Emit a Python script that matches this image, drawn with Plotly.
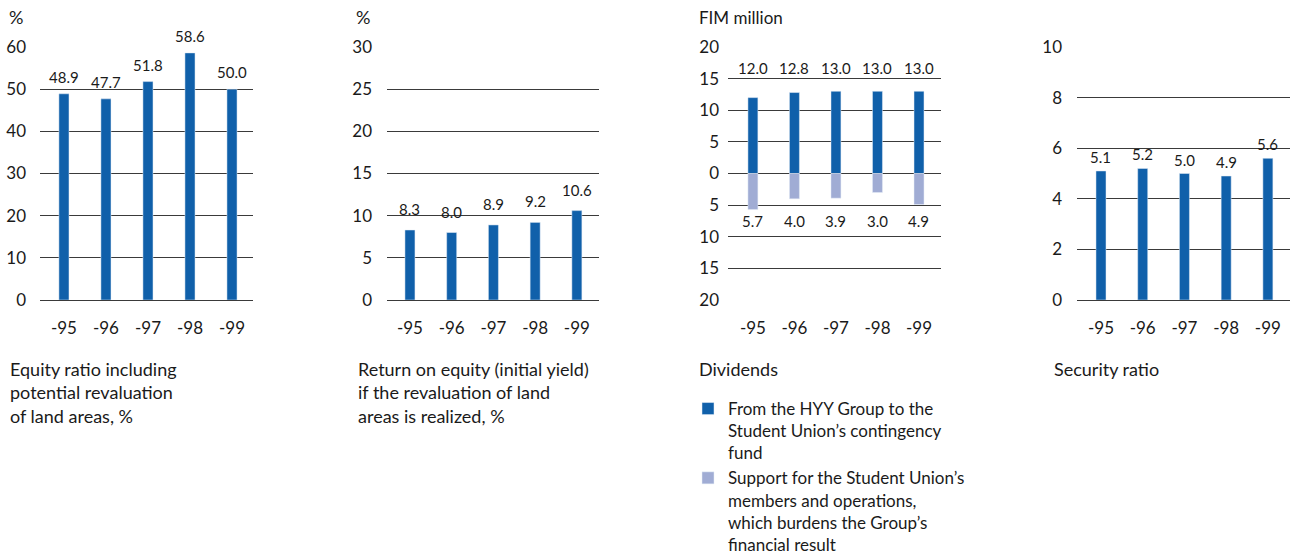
import plotly.graph_objects as go

years = ["-95", "-96", "-97", "-98", "-99"]
equity_ratio = [48.9, 47.7, 51.8, 58.6, 50.0]
roe = [8.3, 8.0, 8.9, 9.2, 10.6]
div_contingency = [12.0, 12.8, 13.0, 13.0, 13.0]
div_support = [5.7, 4.0, 3.9, 3.0, 4.9]
security_ratio = [5.1, 5.2, 5.0, 4.9, 5.6]

captions = [
    "Equity ratio including<br>potential revaluation<br>of land areas, %",
    "Return on equity (initial yield)<br>if the revaluation of land<br>areas is realized, %",
    "Dividends",
    "Security ratio",
]
unit_labels = ["%", "%", "FIM million", ""]
legend_names = [
    "From the HYY Group to the<br>Student Union’s contingency<br>fund",
    "Support for the Student Union’s<br>members and operations,<br>which burdens the Group’s<br>financial result",
]

W, H = 1297, 555
FONT = "Lato"
TXT = "#1a1a1a"
DARK = "#1060aa"
LIGHT = "#a0acd4"
GRID = "#3a3a3a"

def px(x):
    return x / W

def py(y):
    return 1 - y / H

xs = list(range(len(years)))

fig = go.Figure()

panels = [
    dict(x0=40, x1=253, xr=[-0.57, 4.5], yr=[0, 60], dt=10, so=13),
    dict(x0=387, x1=599, xr=[-0.55, 4.53], yr=[0, 30], dt=5, so=14),
    dict(x0=728, x1=941, xr=[-0.6, 4.53], yr=[-20, 20], dt=5, so=8),
    dict(x0=1077, x1=1290, xr=[-0.575, 4.53], yr=[0, 10], dt=2, so=14),
]

y_top, y_bot = 47, 300

for i, p in enumerate(panels):
    n = "" if i == 0 else str(i + 1)
    xa = dict(
        domain=[px(p["x0"]), px(p["x1"])],
        range=p["xr"],
        tickmode="array",
        tickvals=xs,
        ticktext=years,
        showgrid=False,
        zeroline=False,
        showline=False,
        ticks="",
        ticklabelstandoff=16,
        tickfont=dict(family=FONT, size=17, color=TXT),
        anchor="y" + n,
        fixedrange=True,
    )
    ya = dict(
        domain=[py(y_bot), py(y_top)],
        range=p["yr"],
        dtick=p["dt"],
        tick0=0,
        showgrid=True,
        gridcolor=GRID,
        gridwidth=1,
        zeroline=True,
        zerolinecolor=GRID,
        zerolinewidth=1,
        showline=False,
        ticks="",
        ticklabelstandoff=p["so"],
        tickfont=dict(family=FONT, size=17, color=TXT),
        anchor="x" + n,
        fixedrange=True,
    )
    if i == 2:
        vals = list(range(-20, 21, 5))
        ya.update(tickmode="array", tickvals=vals, ticktext=[str(abs(v)) for v in vals])
    fig.update_layout(**{"xaxis" + n: xa, "yaxis" + n: ya})

bar_w = 0.24

fig.add_trace(go.Bar(x=xs, y=equity_ratio, width=bar_w, marker_color=DARK,
                     xaxis="x", yaxis="y", showlegend=False, cliponaxis=False))
fig.add_trace(go.Bar(x=xs, y=roe, width=bar_w, marker_color=DARK,
                     xaxis="x2", yaxis="y2", showlegend=False, cliponaxis=False))
fig.add_trace(go.Bar(x=xs, y=div_contingency, width=bar_w, marker_color=DARK,
                     xaxis="x3", yaxis="y3", name=legend_names[0], showlegend=True))
fig.add_trace(go.Bar(x=xs, y=[-v for v in div_support], width=bar_w, marker_color=LIGHT,
                     xaxis="x3", yaxis="y3", name=legend_names[1], showlegend=True))
fig.add_trace(go.Bar(x=xs, y=security_ratio, width=bar_w, marker_color=DARK,
                     xaxis="x4", yaxis="y4", showlegend=False, cliponaxis=False))

ann = []
lab_font = dict(family=FONT, size=15, color=TXT)

def add_labels(vals, xref, yref, yshift, yvals=None):
    for k, v in enumerate(vals):
        ann.append(dict(x=xs[k], y=(yvals[k] if yvals else v), xref=xref, yref=yref,
                        text=f"{v:.1f}", showarrow=False, yshift=yshift,
                        yanchor="middle", font=lab_font))

add_labels(equity_ratio, "x", "y", 17)
add_labels(roe, "x2", "y2", 21)
add_labels(div_contingency, "x3", "y3", 23, [max(div_contingency)] * 5)
add_labels(div_support, "x3", "y3", -11, [-max(div_support)] * 5)
add_labels(security_ratio, "x4", "y4", 14)

unit_x = [7, 354, 697, 0]
for k, t in enumerate(unit_labels):
    if t:
        ann.append(dict(x=px(unit_x[k]), y=py(17), xref="paper", yref="paper",
                        text=t, showarrow=False, xanchor="left", yanchor="middle",
                        font=dict(family=FONT, size=18 if t == "%" else 17, color=TXT)))

cap_x = [8, 356, 697, 1052]
for k, t in enumerate(captions):
    ann.append(dict(x=px(cap_x[k]), y=py(356), xref="paper", yref="paper",
                    text=t, showarrow=False, xanchor="left", yanchor="top", align="left",
                    font=dict(family=FONT, size=18, color=TXT)))

fig.update_layout(
    width=W, height=H,
    margin=dict(l=0, r=0, t=0, b=0, autoexpand=False),
    paper_bgcolor="white", plot_bgcolor="white",
    barmode="relative",
    annotations=ann,
    legend=dict(
        x=px(688), y=py(391), xanchor="left", yanchor="top",
        font=dict(family=FONT, size=17, color=TXT),
        valign="top", tracegroupgap=4, itemwidth=30,
        bgcolor="rgba(0,0,0,0)",
    ),
)

fig.write_html("out.html")
